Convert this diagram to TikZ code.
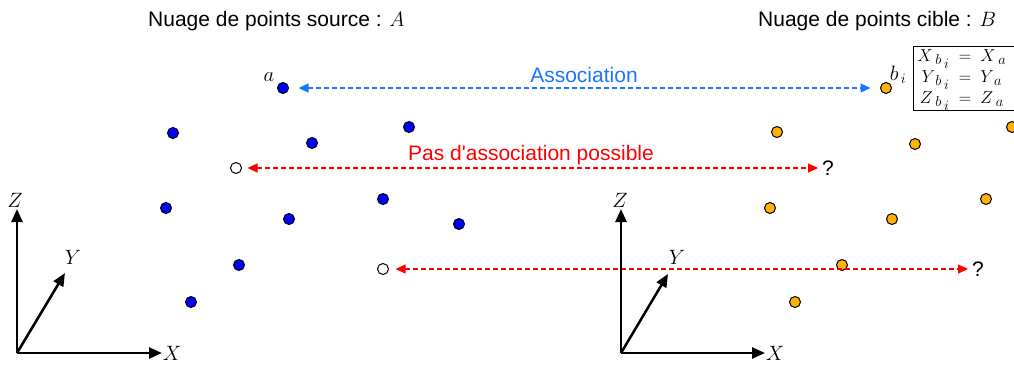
\documentclass[tikz,border=0pt]{standalone}
\usepackage{fontspec}
\setmainfont{Liberation Sans}[Ligatures=TeXOff]
\usetikzlibrary{arrows.meta}
\definecolor{ptblue}{RGB}{0,0,255}
\definecolor{ptorange}{RGB}{255,178,0}
\definecolor{assocblue}{RGB}{26,117,255}
\definecolor{nored}{RGB}{255,0,0}
\newcommand{\sbi}{\smash{\;\scriptstyle b_{\;\scriptstyle i}}}
\begin{document}
\begin{tikzpicture}[x=1pt,y=-1pt,
  src/.style={circle, draw=black, line width=1pt, fill=ptblue, minimum size=11pt, inner sep=0pt},
  tgt/.style={src, fill=ptorange},
  miss/.style={src, fill=white},
  axisline/.style={line width=2.5pt, -{Triangle[length=13pt,width=11pt]}},
  assoc/.style={assocblue, line width=1.2pt, dash pattern=on 5pt off 3pt,
     {Triangle[length=10pt,width=9pt]}-{Triangle[length=10pt,width=9pt]}},
  noassoc/.style={nored, line width=1.2pt, dash pattern=on 5pt off 3pt,
     {Triangle[length=10pt,width=9pt]}-{Triangle[length=10pt,width=9pt]}},
  lbl/.style={font=\fontsize{21}{24}\selectfont, inner sep=0pt},
  mlbl/.style={font=\fontsize{20}{24}\selectfont, inner sep=0pt},
  qmark/.style={font=\fontsize{21}{24}\selectfont, inner xsep=4pt, inner ysep=0pt, outer sep=0pt, anchor=west}
]
\clip (0,0) rectangle (1014,367);

% titles
\node[lbl, anchor=base west] (tA) at (148,26) {Nuage de points source : $A$};
\node[lbl, anchor=base west] (tB) at (758,26) {Nuage de points cible : $B$};

% source points
\node[src] (a) at (283,88) {};
\node[src] (s1) at (173,133) {};
\node[src] (s2) at (312,143) {};
\node[src] (s3) at (409,127) {};
\node[src] (s4) at (166,208) {};
\node[src] (s5) at (289,219) {};
\node[src] (s6) at (383,199) {};
\node[src] (s7) at (459,224) {};
\node[src] (s8) at (239,265) {};
\node[src] (s9) at (191,302) {};
\node[miss] (m1) at (236,168) {};
\node[miss] (m2) at (383,269) {};

% target points
\node[tgt] (bi) at (886,88) {};
\node[tgt] (t1) at (777,132) {};
\node[tgt] (t2) at (915,144) {};
\node[tgt] (t3) at (1012,127) {};
\node[tgt] (t4) at (770,208) {};
\node[tgt] (t5) at (892,219) {};
\node[tgt] (t6) at (986,199) {};
\node[tgt] (t7) at (842,265) {};
\node[tgt] (t8) at (795,302) {};

% point labels
\node[mlbl] (la) at (269,77) {$a$};
\node[mlbl] (lbi) at (898,75) {$b_{\,i}$};

% equation box
\node[draw=black, line width=0.8pt, anchor=north west, inner xsep=4pt, inner ysep=0.5pt,
      font=\fontsize{19}{21}\selectfont] (eq) at (913,46)
  {$\begin{array}{@{}r@{\hspace{9pt}}c@{\hspace{9pt}}l@{\hspace{12pt}}}
     X_{\sbi} & = & X_{\;a}\\
     Y_{\sbi} & = & Y_{\;a}\\
     Z_{\sbi} & = & Z_{\;a}
   \end{array}$};

% question marks
\node[qmark] (q1) at (818,168) {?};
\node[qmark] (q2) at (968,269) {?};

% association arrows
\draw[assoc, shorten <=9.5pt, shorten >=9.5pt] (a) -- (bi);
\node[lbl, assocblue, anchor=base] (lass) at (584,82) {Association};
\draw[noassoc, shorten <=5.5pt] (m1) -- (q1.west);
\node[lbl, nored, anchor=base] (lno) at (531,160) {Pas d'association possible};
\draw[noassoc, shorten <=6.5pt] (m2) -- (q2.west);

% left axes
\coordinate (o1) at (17,353);
\coordinate (z1) at (17,209);
\coordinate (x1) at (162,353);
\coordinate (y1) at (65,273);
\draw[axisline] (o1) -- (z1);
\draw[axisline] (o1) -- (x1);
\draw[axisline] (o1) -- (y1);
\node[mlbl] (lz1) at (15,200) {$Z$};
\node[mlbl] (lx1) at (172,353) {$X$};
\node[mlbl] (ly1) at (73,257) {$Y$};

% right axes
\coordinate (o2) at (621,353);
\coordinate (z2) at (621,209);
\coordinate (x2) at (765,353);
\coordinate (y2) at (668,274);
\draw[axisline] (o2) -- (z2);
\draw[axisline] (o2) -- (x2);
\draw[axisline] (o2) -- (y2);
\node[mlbl] (lz2) at (620,200) {$Z$};
\node[mlbl] (lx2) at (775,353) {$X$};
\node[mlbl] (ly2) at (677,257) {$Y$};
\end{tikzpicture}
\end{document}
